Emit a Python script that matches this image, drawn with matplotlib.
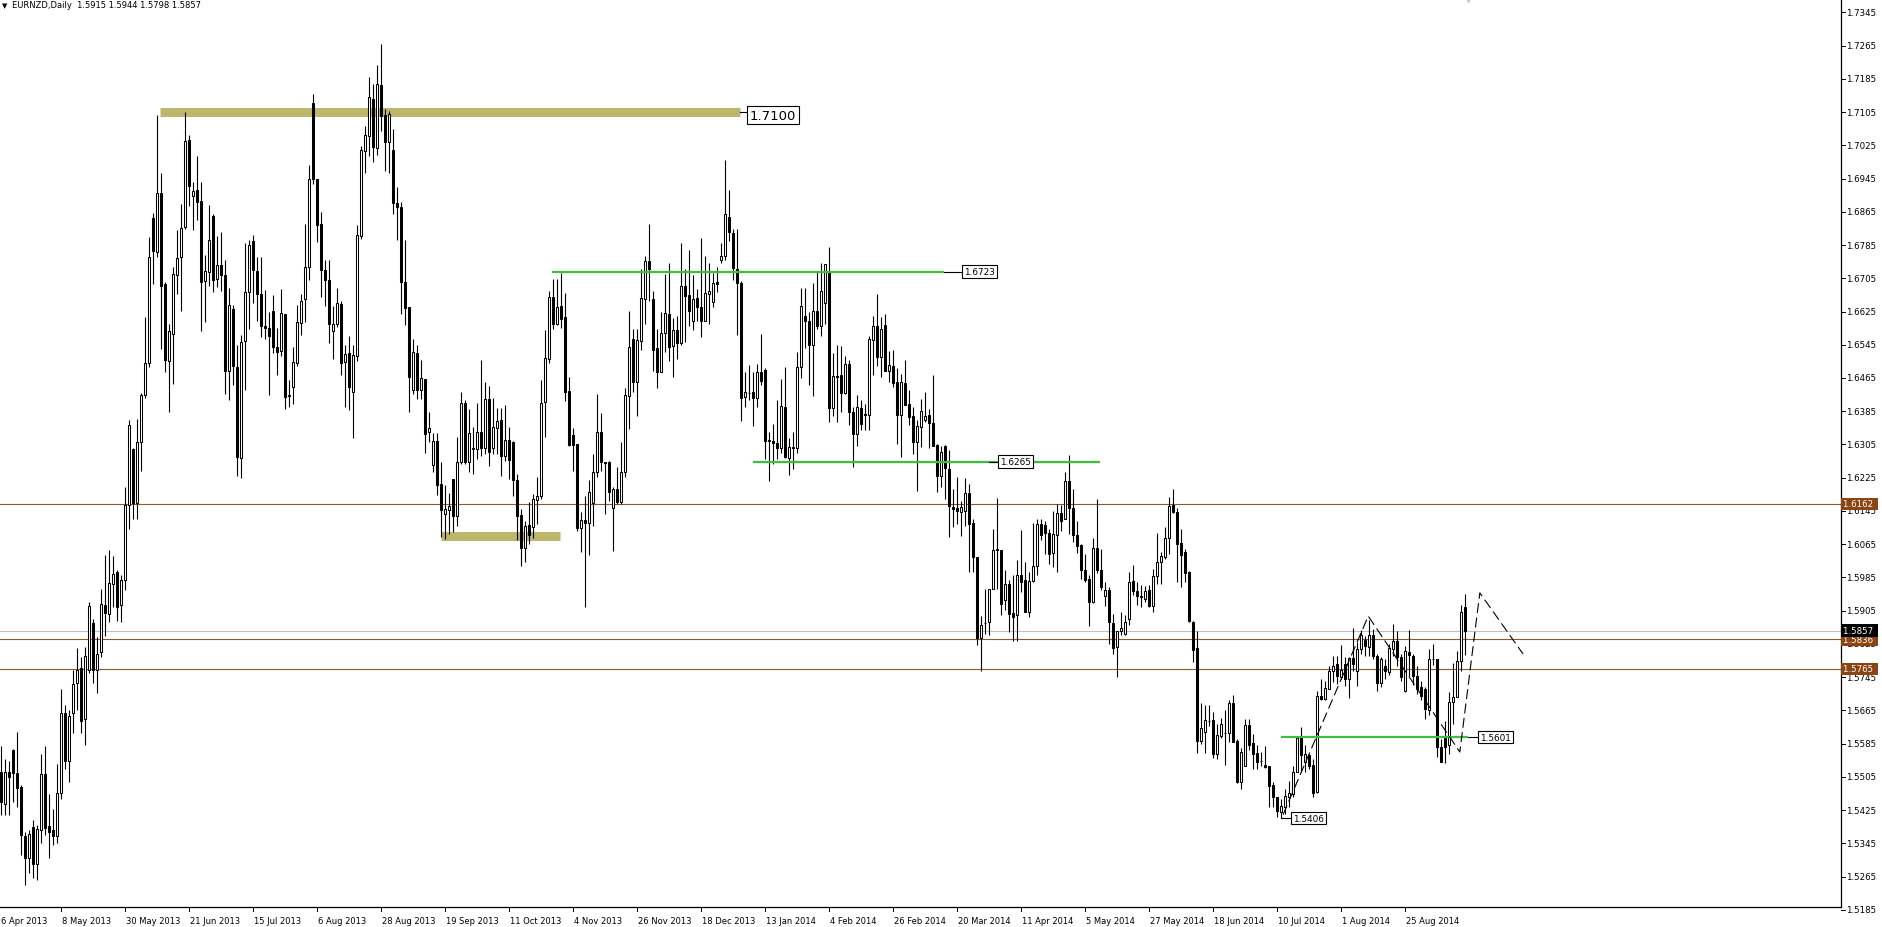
import numpy as np
import matplotlib.pyplot as plt
from matplotlib.transforms import blended_transform_factory

# EURNZD daily bars, oldest first
opens = [
    1.5518, 1.5441, 1.5518, 1.5571, 1.5515, 1.5481, 1.5363, 1.5311, 1.5384, 1.5295,
    1.5378, 1.5512, 1.5386, 1.5378, 1.5363, 1.5467, 1.5659, 1.5543, 1.5659, 1.5732,
    1.5766, 1.5644, 1.5762, 1.5875, 1.5762, 1.5805, 1.5919, 1.5897, 1.5970, 1.5998,
    1.5919, 1.5980, 1.6159, 1.6294, 1.6165, 1.6312, 1.6425, 1.6501, 1.6851, 1.6767,
    1.6910, 1.6691, 1.6507, 1.6571, 1.6713, 1.6756, 1.6828, 1.7038, 1.6904, 1.6918,
    1.6890, 1.6699, 1.6720, 1.6854, 1.6704, 1.6737, 1.6713, 1.6481, 1.6631, 1.6491,
    1.6272, 1.6553, 1.6671, 1.6794, 1.6722, 1.6667, 1.6591, 1.6586, 1.6626, 1.6539,
    1.6529, 1.6619, 1.6422, 1.6444, 1.6501, 1.6597, 1.6654, 1.6732, 1.7127, 1.6944,
    1.6836, 1.6726, 1.6700, 1.6578, 1.6594, 1.6643, 1.6503, 1.6525, 1.6431, 1.6519,
    1.6806, 1.7012, 1.7048, 1.7137, 1.7018, 1.7170, 1.7098, 1.7034, 1.7014, 1.6887,
    1.6876, 1.6695, 1.6635, 1.6435, 1.6525, 1.6437, 1.6463, 1.6334, 1.6256, 1.6313,
    1.6210, 1.6138, 1.6148, 1.6222, 1.6133, 1.6262, 1.6405, 1.6262, 1.6295, 1.6294,
    1.6336, 1.6296, 1.6414, 1.6296, 1.6344, 1.6364, 1.6278, 1.6316, 1.6310, 1.6219,
    1.6135, 1.6057, 1.6111, 1.6107, 1.6172, 1.6180, 1.6408, 1.6511, 1.6659, 1.6596,
    1.6639, 1.6611, 1.6433, 1.6328, 1.6306, 1.6103, 1.6124, 1.6117, 1.6164, 1.6238,
    1.6334, 1.6262, 1.6264, 1.6151, 1.6198, 1.6167, 1.6239, 1.6422, 1.6560, 1.6456,
    1.6555, 1.6655, 1.6747, 1.6655, 1.6536, 1.6479, 1.6573, 1.6619, 1.6541, 1.6580,
    1.6549, 1.6686, 1.6665, 1.6601, 1.6657, 1.6637, 1.6603, 1.6666, 1.6647, 1.6695,
    1.6750, 1.6759, 1.6852, 1.6815, 1.6727, 1.6694, 1.6420, 1.6429, 1.6431, 1.6416,
    1.6479, 1.6485, 1.6316, 1.6314, 1.6309, 1.6296, 1.6394, 1.6272, 1.6298, 1.6296,
    1.6491, 1.6614, 1.6602, 1.6545, 1.6626, 1.6590, 1.6645, 1.6720, 1.6393, 1.6469,
    1.6472, 1.6429, 1.6499, 1.6383, 1.6331, 1.6393, 1.6378, 1.6377, 1.6557, 1.6590,
    1.6515, 1.6593, 1.6483, 1.6493, 1.6455, 1.6375, 1.6452, 1.6403, 1.6373, 1.6310,
    1.6347, 1.6365, 1.6376, 1.6356, 1.6304, 1.6229, 1.6301, 1.6245, 1.6154, 1.6152,
    1.6142, 1.6144, 1.6189, 1.6117, 1.6034, 1.5839, 1.5875, 1.5879, 1.5958, 1.6050,
    1.6050, 1.5930, 1.5970, 1.5899, 1.5894, 1.5990, 1.5978, 1.5903, 1.5976, 1.6012,
    1.6114, 1.6112, 1.6092, 1.6044, 1.6088, 1.6141, 1.6126, 1.6217, 1.6152, 1.6088,
    1.6064, 1.6004, 1.5982, 1.5927, 1.6056, 1.6002, 1.5940, 1.5954, 1.5876, 1.5817,
    1.5855, 1.5849, 1.5884, 1.5976, 1.5952, 1.5940, 1.5932, 1.5955, 1.5916, 1.5989,
    1.6022, 1.6034, 1.6079, 1.6159, 1.6142, 1.6067, 1.6047, 1.5997, 1.5879, 1.5815,
    1.5592, 1.5612, 1.5639, 1.5641, 1.5560, 1.5604, 1.5611, 1.5611, 1.5683, 1.5592,
    1.5494, 1.5531, 1.5629, 1.5587, 1.5563, 1.5544, 1.5534, 1.5531, 1.5486, 1.5456,
    1.5420, 1.5432, 1.5456, 1.5464, 1.5518, 1.5600, 1.5542, 1.5557, 1.5534, 1.5469,
    1.5700, 1.5692, 1.5717, 1.5759, 1.5777, 1.5746, 1.5777, 1.5741, 1.5791, 1.5759,
    1.5813, 1.5834, 1.5818, 1.5846, 1.5796, 1.5732, 1.5772, 1.5757, 1.5813, 1.5831,
    1.5793, 1.5711, 1.5805, 1.5797, 1.5749, 1.5721, 1.5717, 1.5667, 1.5788, 1.5789,
    1.5577, 1.5599, 1.5581, 1.5685, 1.5697, 1.5785, 1.5915,
]
highs = [
    1.5579, 1.5549, 1.5543, 1.5573, 1.5612, 1.5485, 1.5372, 1.5378, 1.5402, 1.5390,
    1.5561, 1.5579, 1.5463, 1.5427, 1.5537, 1.5717, 1.5677, 1.5665, 1.5762, 1.5815,
    1.5793, 1.5817, 1.5925, 1.5884, 1.5842, 1.5958, 1.6040, 1.6052, 1.6037, 1.6003,
    1.5991, 1.6202, 1.6364, 1.6296, 1.6367, 1.6428, 1.6611, 1.6804, 1.6861, 1.7099,
    1.6959, 1.6695, 1.6595, 1.6732, 1.6820, 1.6884, 1.7104, 1.7050, 1.6936, 1.7000,
    1.6936, 1.6761, 1.6882, 1.6860, 1.6806, 1.6817, 1.6748, 1.6681, 1.6641, 1.6545,
    1.6569, 1.6790, 1.6798, 1.6809, 1.6756, 1.6756, 1.6677, 1.6625, 1.6665, 1.6586,
    1.6679, 1.6619, 1.6459, 1.6539, 1.6641, 1.6667, 1.6836, 1.6978, 1.7149, 1.6944,
    1.6865, 1.6750, 1.6750, 1.6639, 1.6681, 1.6651, 1.6545, 1.6566, 1.6545, 1.6833,
    1.7023, 1.7072, 1.7190, 1.7173, 1.7217, 1.7269, 1.7112, 1.7108, 1.7064, 1.6924,
    1.6888, 1.6798, 1.6635, 1.6558, 1.6545, 1.6509, 1.6463, 1.6383, 1.6333, 1.6333,
    1.6264, 1.6208, 1.6188, 1.6222, 1.6323, 1.6431, 1.6413, 1.6391, 1.6346, 1.6405,
    1.6508, 1.6455, 1.6445, 1.6418, 1.6392, 1.6392, 1.6400, 1.6348, 1.6314, 1.6234,
    1.6150, 1.6122, 1.6166, 1.6187, 1.6226, 1.6459, 1.6581, 1.6675, 1.6703, 1.6703,
    1.6718, 1.6669, 1.6467, 1.6344, 1.6306, 1.6142, 1.6182, 1.6220, 1.6282, 1.6426,
    1.6381, 1.6264, 1.6266, 1.6202, 1.6250, 1.6310, 1.6442, 1.6627, 1.6584, 1.6584,
    1.6727, 1.6759, 1.6835, 1.6674, 1.6584, 1.6625, 1.6715, 1.6742, 1.6609, 1.6615,
    1.6790, 1.6727, 1.6773, 1.6713, 1.6679, 1.6801, 1.6758, 1.6742, 1.6718, 1.6731,
    1.6790, 1.6989, 1.6917, 1.6823, 1.6823, 1.6699, 1.6479, 1.6496, 1.6479, 1.6499,
    1.6571, 1.6488, 1.6334, 1.6354, 1.6412, 1.6463, 1.6491, 1.6320, 1.6336, 1.6527,
    1.6681, 1.6681, 1.6625, 1.6694, 1.6720, 1.6741, 1.6740, 1.6780, 1.6525, 1.6545,
    1.6541, 1.6517, 1.6509, 1.6395, 1.6424, 1.6413, 1.6403, 1.6567, 1.6615, 1.6667,
    1.6611, 1.6619, 1.6529, 1.6533, 1.6489, 1.6475, 1.6509, 1.6435, 1.6395, 1.6365,
    1.6415, 1.6431, 1.6391, 1.6472, 1.6306, 1.6301, 1.6304, 1.6292, 1.6198, 1.6226,
    1.6168, 1.6224, 1.6210, 1.6126, 1.6034, 1.5892, 1.5958, 1.5958, 1.6102, 1.6177,
    1.6050, 1.6002, 1.5978, 1.5990, 1.6026, 1.6100, 1.6022, 1.5998, 1.6117, 1.6126,
    1.6126, 1.6122, 1.6101, 1.6146, 1.6162, 1.6160, 1.6238, 1.6280, 1.6197, 1.6122,
    1.6066, 1.6042, 1.5990, 1.6080, 1.6173, 1.6054, 1.5974, 1.5962, 1.5898, 1.5857,
    1.5902, 1.5894, 1.5998, 1.6014, 1.5974, 1.5967, 1.5965, 1.5967, 1.6005, 1.6092,
    1.6047, 1.6106, 1.6178, 1.6198, 1.6151, 1.6102, 1.6054, 1.6001, 1.5881, 1.5855,
    1.5683, 1.5677, 1.5678, 1.5662, 1.5633, 1.5646, 1.5667, 1.5691, 1.5702, 1.5596,
    1.5574, 1.5645, 1.5645, 1.5609, 1.5582, 1.5566, 1.5580, 1.5532, 1.5492, 1.5456,
    1.5451, 1.5476, 1.5496, 1.5532, 1.5604, 1.5625, 1.5583, 1.5561, 1.5549, 1.5711,
    1.5741, 1.5737, 1.5772, 1.5797, 1.5796, 1.5823, 1.5793, 1.5793, 1.5863, 1.5830,
    1.5858, 1.5844, 1.5882, 1.5862, 1.5801, 1.5793, 1.5788, 1.5826, 1.5874, 1.5855,
    1.5801, 1.5821, 1.5858, 1.5801, 1.5772, 1.5735, 1.5721, 1.5813, 1.5826, 1.5789,
    1.5597, 1.5639, 1.5709, 1.5780, 1.5809, 1.5919, 1.5944,
]
lows = [
    1.5414, 1.5414, 1.5414, 1.5445, 1.5433, 1.5317, 1.5246, 1.5274, 1.5262, 1.5256,
    1.5347, 1.5366, 1.5311, 1.5341, 1.5347, 1.5453, 1.5524, 1.5494, 1.5610, 1.5665,
    1.5610, 1.5583, 1.5756, 1.5732, 1.5707, 1.5793, 1.5844, 1.5878, 1.5915, 1.5881,
    1.5878, 1.5954, 1.6101, 1.6125, 1.6125, 1.6242, 1.6416, 1.6491, 1.6690, 1.6755,
    1.6534, 1.6479, 1.6384, 1.6451, 1.6667, 1.6627, 1.6824, 1.6880, 1.6822, 1.6844,
    1.6577, 1.6599, 1.6686, 1.6671, 1.6683, 1.6675, 1.6427, 1.6413, 1.6448, 1.6229,
    1.6224, 1.6437, 1.6582, 1.6646, 1.6603, 1.6563, 1.6558, 1.6423, 1.6525, 1.6471,
    1.6519, 1.6391, 1.6395, 1.6403, 1.6493, 1.6569, 1.6599, 1.6700, 1.6932, 1.6793,
    1.6659, 1.6638, 1.6549, 1.6511, 1.6587, 1.6471, 1.6396, 1.6387, 1.6321, 1.6507,
    1.6800, 1.6959, 1.7000, 1.6984, 1.7002, 1.7060, 1.6962, 1.6959, 1.6860, 1.6796,
    1.6619, 1.6593, 1.6383, 1.6427, 1.6415, 1.6415, 1.6285, 1.6310, 1.6238, 1.6184,
    1.6082, 1.6078, 1.6090, 1.6095, 1.6110, 1.6258, 1.6258, 1.6238, 1.6234, 1.6270,
    1.6278, 1.6282, 1.6254, 1.6282, 1.6282, 1.6228, 1.6266, 1.6223, 1.6182, 1.6075,
    1.6013, 1.6023, 1.6066, 1.6079, 1.6114, 1.6174, 1.6322, 1.6500, 1.6584, 1.6592,
    1.6585, 1.6410, 1.6301, 1.6242, 1.6098, 1.6047, 1.5913, 1.6039, 1.6110, 1.6226,
    1.6242, 1.6138, 1.6170, 1.6049, 1.6162, 1.6162, 1.6226, 1.6342, 1.6432, 1.6374,
    1.6533, 1.6595, 1.6651, 1.6483, 1.6440, 1.6479, 1.6527, 1.6507, 1.6467, 1.6511,
    1.6544, 1.6551, 1.6591, 1.6581, 1.6603, 1.6564, 1.6601, 1.6595, 1.6637, 1.6673,
    1.6742, 1.6750, 1.6795, 1.6702, 1.6568, 1.6362, 1.6394, 1.6413, 1.6349, 1.6394,
    1.6447, 1.6269, 1.6218, 1.6258, 1.6269, 1.6285, 1.6272, 1.6232, 1.6246, 1.6285,
    1.6464, 1.6537, 1.6447, 1.6421, 1.6583, 1.6567, 1.6595, 1.6360, 1.6373, 1.6359,
    1.6384, 1.6427, 1.6352, 1.6250, 1.6301, 1.6341, 1.6341, 1.6339, 1.6471, 1.6493,
    1.6467, 1.6483, 1.6455, 1.6443, 1.6307, 1.6274, 1.6399, 1.6352, 1.6282, 1.6194,
    1.6298, 1.6359, 1.6296, 1.6302, 1.6190, 1.6202, 1.6174, 1.6082, 1.6106, 1.6114,
    1.6084, 1.6108, 1.5998, 1.5998, 1.5823, 1.5761, 1.5849, 1.5847, 1.5958, 1.5958,
    1.5894, 1.5906, 1.5854, 1.5833, 1.5833, 1.5950, 1.5902, 1.5890, 1.5974, 1.5990,
    1.6074, 1.6042, 1.6018, 1.6010, 1.5998, 1.6098, 1.6126, 1.6090, 1.6070, 1.6044,
    1.5982, 1.5974, 1.5868, 1.5924, 1.5996, 1.5954, 1.5916, 1.5825, 1.5801, 1.5745,
    1.5847, 1.5847, 1.5871, 1.5942, 1.5918, 1.5913, 1.5927, 1.5913, 1.5903, 1.5969,
    1.5969, 1.6030, 1.6042, 1.6140, 1.5973, 1.5961, 1.5975, 1.5879, 1.5781, 1.5563,
    1.5584, 1.5563, 1.5627, 1.5550, 1.5548, 1.5598, 1.5534, 1.5588, 1.5588, 1.5491,
    1.5475, 1.5531, 1.5570, 1.5524, 1.5524, 1.5532, 1.5526, 1.5432, 1.5432, 1.5408,
    1.5406, 1.5416, 1.5432, 1.5456, 1.5516, 1.5517, 1.5517, 1.5525, 1.5457, 1.5467,
    1.5689, 1.5689, 1.5716, 1.5733, 1.5729, 1.5740, 1.5725, 1.5695, 1.5759, 1.5724,
    1.5801, 1.5797, 1.5797, 1.5788, 1.5711, 1.5721, 1.5741, 1.5751, 1.5796, 1.5772,
    1.5737, 1.5709, 1.5749, 1.5727, 1.5705, 1.5689, 1.5645, 1.5653, 1.5775, 1.5553,
    1.5541, 1.5539, 1.5561, 1.5633, 1.5697, 1.5761, 1.5798,
]
closes = [
    1.5445, 1.5518, 1.5506, 1.5515, 1.5478, 1.5366, 1.5311, 1.5368, 1.5295, 1.5380,
    1.5512, 1.5381, 1.5372, 1.5362, 1.5467, 1.5659, 1.5543, 1.5652, 1.5729, 1.5762,
    1.5640, 1.5795, 1.5917, 1.5762, 1.5801, 1.5921, 1.5899, 1.5972, 1.5994, 1.5915,
    1.5980, 1.6159, 1.6352, 1.6165, 1.6312, 1.6425, 1.6501, 1.6755, 1.6770, 1.6910,
    1.6687, 1.6509, 1.6578, 1.6716, 1.6753, 1.6825, 1.7035, 1.6926, 1.6914, 1.6888,
    1.6697, 1.6722, 1.6797, 1.6702, 1.6737, 1.6712, 1.6481, 1.6641, 1.6493, 1.6274,
    1.6551, 1.6671, 1.6785, 1.6724, 1.6666, 1.6589, 1.6585, 1.6567, 1.6539, 1.6527,
    1.6621, 1.6420, 1.6424, 1.6503, 1.6599, 1.6651, 1.6732, 1.6943, 1.6943, 1.6833,
    1.6724, 1.6702, 1.6594, 1.6595, 1.6645, 1.6501, 1.6523, 1.6443, 1.6521, 1.6809,
    1.7014, 1.7050, 1.7141, 1.7020, 1.7173, 1.7096, 1.7034, 1.7100, 1.6886, 1.6876,
    1.6697, 1.6633, 1.6468, 1.6527, 1.6437, 1.6464, 1.6331, 1.6345, 1.6313, 1.6208,
    1.6148, 1.6150, 1.6158, 1.6133, 1.6262, 1.6405, 1.6262, 1.6333, 1.6297, 1.6336,
    1.6296, 1.6414, 1.6286, 1.6346, 1.6361, 1.6278, 1.6316, 1.6268, 1.6220, 1.6134,
    1.6055, 1.6110, 1.6087, 1.6174, 1.6180, 1.6406, 1.6512, 1.6661, 1.6596, 1.6637,
    1.6608, 1.6432, 1.6304, 1.6304, 1.6103, 1.6124, 1.6115, 1.6191, 1.6238, 1.6334,
    1.6262, 1.6260, 1.6191, 1.6198, 1.6167, 1.6238, 1.6424, 1.6539, 1.6456, 1.6556,
    1.6657, 1.6747, 1.6727, 1.6533, 1.6479, 1.6573, 1.6621, 1.6539, 1.6580, 1.6548,
    1.6686, 1.6663, 1.6627, 1.6655, 1.6635, 1.6603, 1.6669, 1.6674, 1.6693, 1.6690,
    1.6758, 1.6860, 1.6817, 1.6730, 1.6694, 1.6418, 1.6431, 1.6429, 1.6418, 1.6479,
    1.6457, 1.6314, 1.6314, 1.6308, 1.6296, 1.6398, 1.6274, 1.6298, 1.6296, 1.6491,
    1.6639, 1.6602, 1.6545, 1.6626, 1.6590, 1.6674, 1.6740, 1.6393, 1.6469, 1.6468,
    1.6429, 1.6499, 1.6383, 1.6331, 1.6395, 1.6355, 1.6377, 1.6559, 1.6590, 1.6515,
    1.6583, 1.6483, 1.6497, 1.6453, 1.6375, 1.6455, 1.6400, 1.6372, 1.6312, 1.6349,
    1.6385, 1.6373, 1.6356, 1.6302, 1.6229, 1.6288, 1.6248, 1.6157, 1.6149, 1.6144,
    1.6154, 1.6189, 1.6114, 1.6034, 1.5839, 1.5871, 1.5875, 1.5958, 1.6052, 1.6054,
    1.5922, 1.5970, 1.5898, 1.5891, 1.5991, 1.5974, 1.5903, 1.5976, 1.6012, 1.6114,
    1.6086, 1.6092, 1.6042, 1.6090, 1.6141, 1.6120, 1.6217, 1.6152, 1.6088, 1.6060,
    1.6004, 1.5980, 1.5927, 1.6056, 1.6002, 1.5962, 1.5954, 1.5878, 1.5815, 1.5855,
    1.5863, 1.5879, 1.5974, 1.5952, 1.5940, 1.5937, 1.5953, 1.5916, 1.5989, 1.6022,
    1.6036, 1.6079, 1.6158, 1.6142, 1.6066, 1.6039, 1.5996, 1.5881, 1.5811, 1.5592,
    1.5622, 1.5641, 1.5639, 1.5560, 1.5606, 1.5633, 1.5611, 1.5683, 1.5590, 1.5494,
    1.5566, 1.5629, 1.5582, 1.5560, 1.5542, 1.5544, 1.5528, 1.5483, 1.5456, 1.5422,
    1.5434, 1.5459, 1.5467, 1.5518, 1.5598, 1.5558, 1.5561, 1.5531, 1.5467, 1.5700,
    1.5692, 1.5719, 1.5759, 1.5772, 1.5748, 1.5763, 1.5741, 1.5791, 1.5777, 1.5813,
    1.5846, 1.5820, 1.5846, 1.5796, 1.5732, 1.5789, 1.5759, 1.5815, 1.5831, 1.5793,
    1.5745, 1.5807, 1.5799, 1.5749, 1.5717, 1.5700, 1.5669, 1.5788, 1.5789, 1.5577,
    1.5542, 1.5577, 1.5685, 1.5697, 1.5785, 1.5902, 1.5857,
]

date_labels = ["6 Apr 2013", "8 May 2013", "30 May 2013", "21 Jun 2013", "15 Jul 2013",
               "6 Aug 2013", "28 Aug 2013", "19 Sep 2013", "11 Oct 2013", "4 Nov 2013",
               "26 Nov 2013", "18 Dec 2013", "13 Jan 2014", "4 Feb 2014", "26 Feb 2014",
               "20 Mar 2014", "11 Apr 2014", "5 May 2014", "27 May 2014", "18 Jun 2014",
               "10 Jul 2014", "1 Aug 2014", "25 Aug 2014"]
price_ticks = [1.7345, 1.7265, 1.7185, 1.7105, 1.7025, 1.6945, 1.6865, 1.6785, 1.6705,
               1.6625, 1.6545, 1.6465, 1.6385, 1.6305, 1.6225, 1.6145, 1.6065, 1.5985,
               1.5905, 1.5825, 1.5745, 1.5665, 1.5585, 1.5505, 1.5425, 1.5345, 1.5265,
               1.5185]

# drawn objects: (start bar, end bar, price)
zones = [(39.8, 184.8, 1.7106), (110.1, 139.8, 1.6084)]
green_lines = [(137.8, 235.8, 1.6721), (188.1, 274.8, 1.6264), (320.1, 366.8, 1.5601)]
brown_levels = [1.6162, 1.5836, 1.5765]
bid = 1.5857
# projection zigzag
zig_x = [320.6, 341.9, 364.8, 369.8, 380.6]
zig_y = [1.5414, 1.5892, 1.5565, 1.5948, 1.5801]

o = np.array(opens)
h = np.array(highs)
l = np.array(lows)
c = np.array(closes)
x = np.arange(len(c))

fig = plt.figure(figsize=(18.83, 9.28), dpi=100)
ax = fig.add_axes([0, 1 - 908 / 928, 1841 / 1883, 908 / 928])
ax.set_xlim(-0.175, 460.1)
ax.set_ylim(1.5192, 1.7377)
for s in ['left', 'top']:
    ax.spines[s].set_visible(False)
for s in ['right', 'bottom']:
    ax.spines[s].set_linewidth(0.9)
ax.set_xticks([])
ax.set_yticks([])

# horizontal levels
for p in brown_levels:
    ax.axhline(p, color='#8B5A2B', lw=0.8, zorder=1)
ax.axhline(bid, color='#C0C0C0', lw=0.8, zorder=1)

for x0, x1, p in zones:
    ax.plot([x0, x1], [p, p], color='#BDB76B', lw=6.5, solid_capstyle='butt', zorder=1)

# candles
up = c >= o
ax.vlines(x, l, h, color='black', lw=0.8, zorder=2)
body_lo = np.minimum(o, c)
body_h = np.maximum(np.abs(c - o), 0.00003)
ax.bar(x, body_h, bottom=body_lo, width=0.5,
       color=np.where(up, 'white', 'black'), edgecolor='black', linewidth=0.75, zorder=3)

for x0, x1, p in green_lines:
    ax.plot([x0, x1], [p, p], color='#3DBE3D', lw=1.6, solid_capstyle='butt', zorder=4)

ax.plot(zig_x, zig_y, color='black', lw=0.8, ls=(0, (9, 4)), zorder=5)

# chart shift marker at the top
ax.plot([366.8], [1.7377], marker='v', ms=5, color='#C8C8C8', clip_on=False, zorder=5)

# price labels of the drawn objects
box = dict(boxstyle='square,pad=0.2', fc='white', ec='black', lw=0.8)
ax.plot([184.8, 187.3], [1.7106, 1.7106], color='black', lw=0.8, zorder=5)
ax.text(187.3, 1.7097, '1.7100', fontsize=9.5, ha='left', va='center', bbox=box, zorder=6)
small_labels = [(235.8, 240.6, 1.6721, '1.6723'), (247.1, 249.6, 1.6264, '1.6265'),
                (366.8, 369.6, 1.5601, '1.5601'), (320.0, 322.8, 1.5406, '1.5406')]
for x0, x1, p, t in small_labels:
    ax.plot([x0, x1], [p, p], color='black', lw=0.8, zorder=5)
    ax.text(x1 + 0.3, p, t, fontsize=6.4, ha='left', va='center', bbox=box, zorder=6)

# right price scale
ty = blended_transform_factory(ax.transAxes, ax.transData)
for p in price_ticks:
    ax.plot([1.0, 1.002], [p, p], transform=ty, color='black', lw=0.7, clip_on=False)
    ax.text(1.0028, p, f'{p:.4f}', transform=ty, fontsize=6.2, ha='left', va='center',
            clip_on=False)
for p, col in [(1.6162, '#8B4513'), (1.5765, '#8B4513'), (1.5836, '#8B4513'), (bid, 'black')]:
    ax.text(1.0012, p, f'{p:.4f} ', transform=ty, fontsize=6.2, ha='left', va='center',
            color='white', clip_on=False,
            bbox=dict(boxstyle='square,pad=0.2', fc=col, ec='none'))

# bottom date scale
tx = blended_transform_factory(ax.transData, ax.transAxes)
for k, lab in enumerate(date_labels):
    b = 16 * k - 1
    if k == 0:
        ax.text(0.0, -0.0145, lab, transform=tx, fontsize=6, ha='left', va='center',
                clip_on=False)
        continue
    ax.plot([b, b], [0, -0.004], transform=tx, color='black', lw=0.7, clip_on=False)
    ax.text(b + 0.4, -0.0145, lab, transform=tx, fontsize=6, ha='left', va='center',
            clip_on=False)

fig.text(2 / 1883, 1 - 6 / 928, '\u25bc', fontsize=5, ha='left', va='center')
fig.text(12 / 1883, 1 - 6 / 928, 'EURNZD,Daily  1.5915 1.5944 1.5798 1.5857',
         fontsize=6, ha='left', va='center')

fig.savefig('out.png', dpi=100)
